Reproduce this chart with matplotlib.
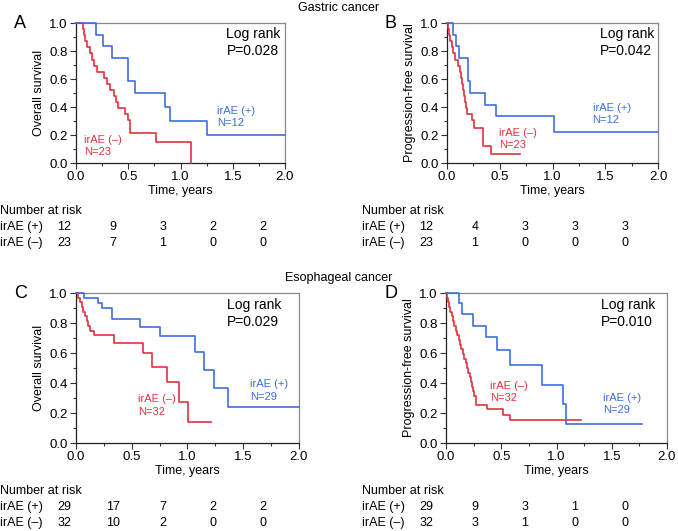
import matplotlib
matplotlib.use("Agg")
import matplotlib.pyplot as plt

# -------------------------------------------------
# 1. Data
# -------------------------------------------------
# Panel A - gastric cancer, overall survival
a_pos_t = [0, 0.19, 0.26, 0.34, 0.50, 0.56, 0.85, 0.90, 1.25, 2.0]
a_pos_s = [1.0, 0.917, 0.833, 0.75, 0.583, 0.50, 0.40, 0.30, 0.20, 0.20]
a_neg_t = [0, 0.07, 0.08, 0.09, 0.11, 0.13, 0.15, 0.17, 0.20, 0.27, 0.30,
           0.33, 0.36, 0.38, 0.40, 0.47, 0.50, 0.52, 0.77, 1.10]
a_neg_s = [1.0, 0.957, 0.913, 0.870, 0.826, 0.783, 0.739, 0.696, 0.652, 0.609, 0.565,
           0.522, 0.478, 0.435, 0.391, 0.348, 0.304, 0.217, 0.152, 0.0]

# Panel B - gastric cancer, progression-free survival
b_pos_t = [0, 0.06, 0.09, 0.115, 0.20, 0.22, 0.36, 0.46, 1.01, 2.0]
b_pos_s = [1.0, 0.917, 0.833, 0.75, 0.583, 0.50, 0.417, 0.333, 0.222, 0.222]
b_neg_t = [0, 0.005, 0.016, 0.031, 0.045, 0.057, 0.079, 0.10, 0.12, 0.13, 0.14,
           0.15, 0.16, 0.17, 0.18, 0.19, 0.24, 0.26, 0.345, 0.415, 0.69]
b_neg_s = [1.0, 0.957, 0.913, 0.870, 0.826, 0.783, 0.739, 0.696, 0.652, 0.609, 0.565,
           0.522, 0.478, 0.435, 0.391, 0.348, 0.304, 0.25, 0.125, 0.063, 0.063]

# Panel C - esophageal cancer, overall survival
c_pos_t = [0, 0.07, 0.20, 0.23, 0.32, 0.57, 0.755, 1.065, 1.15, 1.235, 1.365, 2.0]
c_pos_s = [1.0, 0.966, 0.931, 0.897, 0.828, 0.776, 0.712, 0.608, 0.487, 0.365, 0.243, 0.243]
c_neg_t = [0, 0.02, 0.035, 0.05, 0.065, 0.08, 0.095, 0.11, 0.13, 0.16, 0.345,
           0.60, 0.68, 0.82, 0.925, 1.005, 1.215]
c_neg_s = [1.0, 0.969, 0.938, 0.906, 0.875, 0.844, 0.813, 0.781, 0.75, 0.719, 0.67,
           0.60, 0.51, 0.41, 0.275, 0.137, 0.137]

# Panel D - esophageal cancer, progression-free survival
d_pos_t = [0, 0.12, 0.145, 0.245, 0.36, 0.46, 0.58, 0.865, 1.055, 1.085, 1.77]
d_pos_s = [1.0, 0.931, 0.862, 0.783, 0.705, 0.62, 0.517, 0.388, 0.26, 0.13, 0.13]
d_neg_t = [0, 0.01, 0.02, 0.03, 0.04, 0.05, 0.06, 0.075, 0.09, 0.10, 0.115, 0.13,
           0.14, 0.155, 0.165, 0.18, 0.19, 0.20, 0.215, 0.225, 0.235, 0.245, 0.255,
           0.27, 0.37, 0.52, 0.58, 1.22]
d_neg_s = [1.0, 0.969, 0.938, 0.906, 0.875, 0.844, 0.813, 0.781, 0.75, 0.719, 0.688, 0.656,
           0.625, 0.594, 0.563, 0.531, 0.50, 0.469, 0.438, 0.406, 0.375, 0.344, 0.313,
           0.255, 0.226, 0.19, 0.155, 0.155]

# Number at risk (0, 0.5, 1.0, 1.5, 2.0 years)
risk_a = {"irAE (+)": [12, 9, 3, 2, 2], "irAE (\u2013)": [23, 7, 1, 0, 0]}
risk_b = {"irAE (+)": [12, 4, 3, 3, 3], "irAE (\u2013)": [23, 1, 0, 0, 0]}
risk_c = {"irAE (+)": [29, 17, 7, 2, 2], "irAE (\u2013)": [32, 10, 2, 0, 0]}
risk_d = {"irAE (+)": [29, 9, 3, 1, 0], "irAE (\u2013)": [32, 3, 1, 0, 0]}

p_values = ["P=0.028", "P=0.042", "P=0.029", "P=0.010"]
n_pos = ["N=12", "N=12", "N=29", "N=29"]
n_neg = ["N=23", "N=23", "N=32", "N=32"]

BLUE = "#3d6fdb"
RED = "#e2333f"
W, H = 678, 531

plt.rcParams["font.family"] = ["Liberation Sans", "DejaVu Sans"]

fig = plt.figure(figsize=(W / 100, H / 100), dpi=100)


def px_axes(left, top, right, bottom):
    return fig.add_axes([left / W, 1 - bottom / H, (right - left) / W, (bottom - top) / H])


def setup(ax, ylabel):
    ax.set_xlim(0, 2.0)
    ax.set_ylim(0, 1.0)
    ax.set_xticks([0, 0.5, 1.0, 1.5, 2.0])
    ax.set_xticks([0.25, 0.75, 1.25, 1.75], minor=True)
    ax.set_yticks([0, 0.2, 0.4, 0.6, 0.8, 1.0])
    ax.set_yticks([0.1, 0.3, 0.5, 0.7, 0.9], minor=True)
    ax.set_xticklabels(["0.0", "0.5", "1.0", "1.5", "2.0"])
    ax.set_yticklabels(["0.0", "0.2", "0.4", "0.6", "0.8", "1.0"])
    ax.tick_params(which="both", direction="out", labelsize=9.5, color="#333333", width=0.8)
    ax.tick_params(which="major", length=4, pad=2)
    ax.tick_params(which="minor", length=2.5)
    for side in ["left", "bottom"]:
        ax.spines[side].set_color("#222222")
        ax.spines[side].set_linewidth(0.9)
    for side in ["top", "right"]:
        ax.spines[side].set_color("#888888")
        ax.spines[side].set_linewidth(0.9)
    ax.set_xlabel("Time, years", fontsize=9, labelpad=1)
    ax.set_ylabel(ylabel, fontsize=9, labelpad=3)


# -------------------------------------------------
# 2. Panels
# -------------------------------------------------
panels = [
    ("A", (76, 23, 285, 163), "Overall survival", a_pos_t, a_pos_s, a_neg_t, a_neg_s,
     (1.44, 0.86), (1.35, 0.33), (0.08, 0.12)),
    ("B", (447, 23, 658, 163), "Progression-free survival", b_pos_t, b_pos_s, b_neg_t, b_neg_s,
     (1.45, 0.86), (1.38, 0.35), (0.49, 0.17)),
    ("C", (76, 293, 299, 443), "Overall survival", c_pos_t, c_pos_s, c_neg_t, c_neg_s,
     (1.35, 0.865), (1.56, 0.35), (0.56, 0.25)),
    ("D", (446, 293, 667, 443), "Progression-free survival", d_pos_t, d_pos_s, d_neg_t, d_neg_s,
     (1.40, 0.865), (1.42, 0.26), (0.40, 0.34)),
]

for i, (letter, rect, ylab, pt, ps, nt, ns, lr_xy, pos_xy, neg_xy) in enumerate(panels):
    ax = px_axes(*rect)
    setup(ax, ylab)
    ax.step(nt, ns, where="post", color=RED, lw=1.2, clip_on=False, zorder=3)
    ax.step(pt, ps, where="post", color=BLUE, lw=1.2, clip_on=False, zorder=3)
    ax.text(lr_xy[0], lr_xy[1], "Log rank\n" + p_values[i], fontsize=10,
            va="center", ha="left", linespacing=1.25)
    ax.text(pos_xy[0], pos_xy[1], "irAE (+)\n" + n_pos[i], fontsize=8, color=BLUE,
            va="center", ha="left", linespacing=1.3)
    ax.text(neg_xy[0], neg_xy[1], "irAE (\u2013)\n" + n_neg[i], fontsize=8, color=RED,
            va="center", ha="left", linespacing=1.3)
    fig.text((rect[0] - 62) / W, 1 - (rect[1] + 1) / H, letter, fontsize=13,
             ha="left", va="center")

# -------------------------------------------------
# 3. Titles
# -------------------------------------------------
fig.text(339 / W, 1 - 8 / H, "Gastric cancer", fontsize=9, ha="center", va="center")
fig.text(339 / W, 1 - 278 / H, "Esophageal cancer", fontsize=9, ha="center", va="center")

# -------------------------------------------------
# 4. Number at risk tables
# -------------------------------------------------
tables = [
    (risk_a, 0, 211),
    (risk_b, 362, 211),
    (risk_c, 0, 491),
    (risk_d, 362, 491),
]
col_x = [64, 113, 163, 213, 263]

for risk, x0, y0 in tables:
    fig.text(x0 / W, 1 - y0 / H, "Number at risk", fontsize=9, ha="left", va="center")
    for r, (label, counts) in enumerate(risk.items()):
        y = y0 + 16 * (r + 1)
        fig.text(x0 / W, 1 - y / H, label, fontsize=9, ha="left", va="center")
        for cx, n in zip(col_x, counts):
            fig.text((x0 + cx) / W, 1 - y / H, str(n), fontsize=9, ha="center", va="center")

fig.savefig("out.png", dpi=100)
